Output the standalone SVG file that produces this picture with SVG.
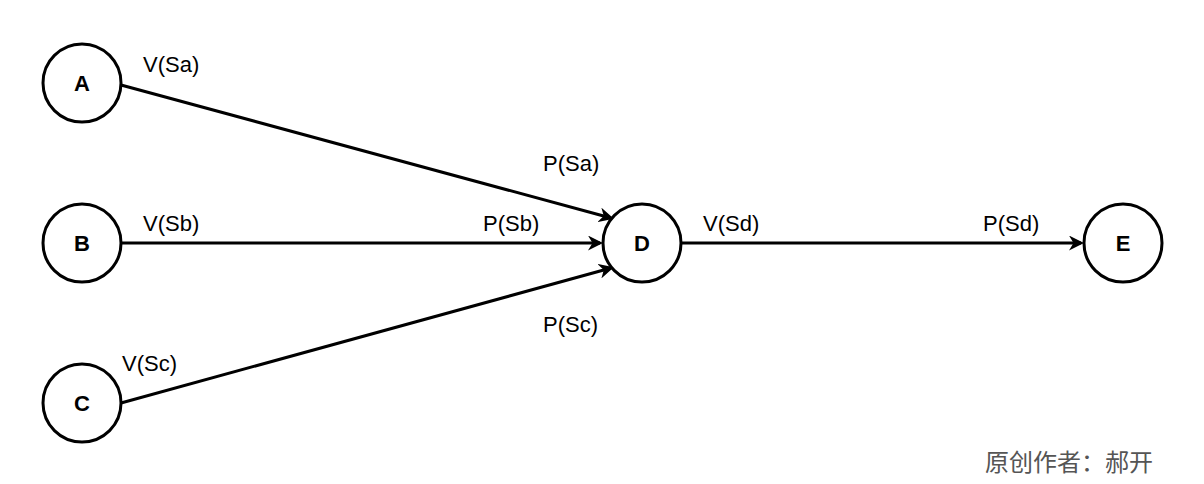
<svg xmlns="http://www.w3.org/2000/svg" width="1204" height="484" viewBox="0 0 1204 484">
<style>
.n{fill:#fff;stroke:#000;stroke-width:3}
.nt{font-family:"Liberation Sans",Arial,sans-serif;font-size:22px;font-weight:bold;text-anchor:middle}
.e{stroke:#000;stroke-width:3;fill:none;marker-end:url(#ah)}
.l{font-family:"Liberation Sans",Arial,sans-serif;font-size:22px;fill:#000}
</style>
<defs><marker id="ah" viewBox="0 0 10 10" refX="8" refY="5" markerWidth="5" markerHeight="5" orient="auto" markerUnits="strokeWidth"><path d="M0,0 L10,5 L0,10 L3,5 Z" fill="#000"/></marker></defs>
<g id="connectors">
<path class="e" d="M121,85 L611,218"/>
<path class="e" d="M121,243 L600,243"/>
<path class="e" d="M121,403 L611,268"/>
<path class="e" d="M681,243 L1081,243"/>
</g>
<g id="nodeA"><circle class="n" cx="82" cy="83" r="39"/><text class="nt" x="82" y="91">A</text></g>
<g id="nodeB"><circle class="n" cx="82" cy="243" r="39"/><text class="nt" x="82" y="251">B</text></g>
<g id="nodeC"><circle class="n" cx="82" cy="403" r="39"/><text class="nt" x="82" y="411">C</text></g>
<g id="nodeD"><circle class="n" cx="642" cy="243" r="39"/><text class="nt" x="642" y="251">D</text></g>
<g id="nodeE"><circle class="n" cx="1123" cy="243" r="39"/><text class="nt" x="1123" y="251">E</text></g>
<g id="labels">
<text class="l" x="143" y="72">V(Sa)</text>
<text class="l" x="543" y="171">P(Sa)</text>
<text class="l" x="143" y="231">V(Sb)</text>
<text class="l" x="483" y="231">P(Sb)</text>
<text class="l" x="122" y="371">V(Sc)</text>
<text class="l" x="543" y="332">P(Sc)</text>
<text class="l" x="703" y="231">V(Sd)</text>
<text class="l" x="983" y="231">P(Sd)</text>
<text x="985" y="471" style="font-family:'Liberation Sans','Noto Sans CJK SC',sans-serif;font-size:24px;fill:#555">原创作者：郝开</text>
</g>
</svg>
